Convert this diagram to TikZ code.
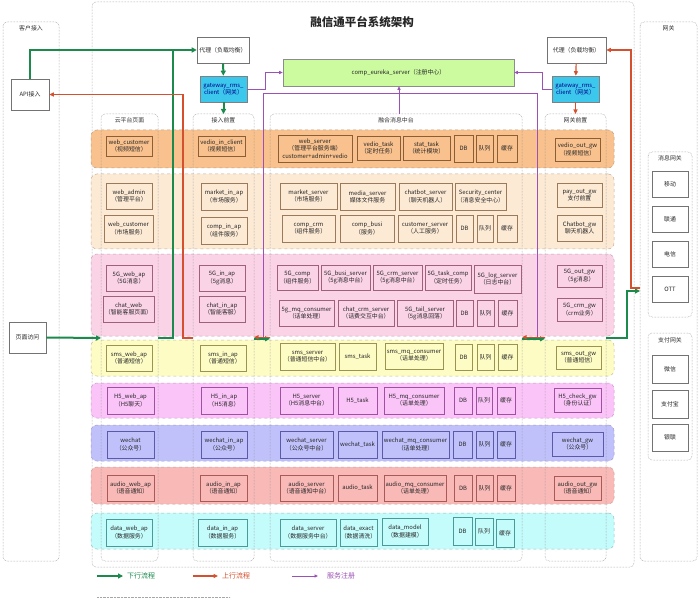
\documentclass[tikz,border=0pt]{standalone}
\usepackage{fontspec}
\setmainfont{Noto Sans CJK SC}
\usetikzlibrary{arrows.meta}
\definecolor{gline}{HTML}{1B8A4C}
\definecolor{rline}{HTML}{D4502F}
\definecolor{pline}{HTML}{9C52B4}
\definecolor{r1f}{HTML}{F8C18D}\definecolor{r1d}{HTML}{8B5E34}
\definecolor{r2f}{HTML}{FCEAD5}\definecolor{r2d}{HTML}{9A7A5A}
\definecolor{r3f}{HTML}{FBD3E7}\definecolor{r3d}{HTML}{A0607A}
\definecolor{r4f}{HTML}{FDFCC5}\definecolor{r4d}{HTML}{9A9450}
\definecolor{r5f}{HTML}{FBC4F8}\definecolor{r5d}{HTML}{A050A0}
\definecolor{r6f}{HTML}{C0C1FB}\definecolor{r6d}{HTML}{5A5AA8}
\definecolor{r7f}{HTML}{F8B9B7}\definecolor{r7d}{HTML}{A85A58}
\definecolor{r8f}{HTML}{C4FBFB}\definecolor{r8d}{HTML}{4A9A9A}
\definecolor{cyanbox}{HTML}{3CC8EC}
\definecolor{eurf}{HTML}{CCFA9F}
\newcommand\fsz{\fontsize{5.9}{7.2}\selectfont}
\newcommand\bx[6]{\node[bx,minimum width={#4-#2},minimum height={#5-#3}] (#1) at ({(#2+#4)/2},{(#3+#5)/2}) {#6};}
\newcommand\rowband[5]{\node[rowb,fill=#4,draw=#5,minimum width=523,minimum height={#3-#2}] (#1) at (352.5,{(#2+#3)/2}) {};}
\begin{document}
\begin{tikzpicture}[x=1pt,y=-1pt,
  bx/.style={draw=bxc,line width=0.55pt,inner sep=0pt,align=center,font=\fsz,text=black!85},
  rowb/.style={dashed,line width=0.5pt,rounded corners=6pt,inner sep=0pt},
  dotbox/.style={draw=black!45,densely dotted,line width=0.5pt,rounded corners=4pt},
  ttl/.style={font=\fsz,text=black!80,inner sep=1pt},
  plain/.style={draw=black!55,fill=white,line width=0.55pt,inner sep=0pt,align=center,font=\fsz,text=black!85},
  ga/.style={draw=gline,line width=2pt,-{Triangle[length=5pt,width=5pt]}},
  gl/.style={draw=gline,line width=2pt},
  ra/.style={draw=rline,line width=1.2pt,-{Triangle[length=4.5pt,width=4pt]}},
  pa/.style={draw=pline,line width=0.9pt,-{Triangle[length=3.5pt,width=3pt]}},
  pl/.style={draw=pline,line width=0.9pt}]
\useasboundingbox (0,0) rectangle (700,601);
\fill[white] (0,0) rectangle (700,601);

% outer containers
\draw[dotbox] (92,2) rectangle (634,567);
\draw[dotbox] (3,22) rectangle (59,561);
\draw[dotbox] (640,22) rectangle (697,561);
\node[font=\bfseries\fontsize{11.5}{13}\selectfont,text=black!85] (title) at (362,22) {融信通平台系统架构};
\node[ttl] (tcust) at (31,28) {客户接入};
\node[ttl] (tnet) at (668.5,28) {网关};

% left side
\node[plain,minimum width=38,minimum height=31] (api) at (30,94.5) {API接入};
\node[plain,minimum width=37,minimum height=31] (pvisit) at (27.5,337.5) {页面访问};

% right side
\draw[dotbox] (648,152) rectangle (692,317);
\node[ttl] (tmsg) at (670,158) {消息网关};
\node[plain,minimum width=36,minimum height=26] (yd) at (670,184) {移动};
\node[plain,minimum width=36,minimum height=26] (lt) at (670,219) {联通};
\node[plain,minimum width=36,minimum height=26] (dx) at (670,254) {电信};
\node[plain,minimum width=36,minimum height=26] (ott) at (670,289) {OTT};
\draw[dotbox] (648,333) rectangle (692,460);
\node[ttl] (tpay) at (670,340) {支付网关};
\node[plain,minimum width=36,minimum height=28] (wx) at (670,369) {微信};
\node[plain,minimum width=36,minimum height=28] (zfb) at (670,404) {支付宝};
\node[plain,minimum width=36,minimum height=27] (yl) at (670,437.5) {银联};

% top elements
\node[plain,minimum width=52,minimum height=26] (pxL) at (223,50) {代理（负载均衡）};
\node[plain,minimum width=59,minimum height=26] (pxR) at (576.5,50) {代理（负载均衡）};
\node[draw=black!50,fill=cyanbox,line width=0.55pt,inner sep=0pt,align=center,font=\fsz,text=blue!55!black,minimum width=47,minimum height=26] (gwL) at (223.5,89) {gateway\_rms\_\\client（网关）};
\node[draw=black!50,fill=cyanbox,line width=0.55pt,inner sep=0pt,align=center,font=\fsz,text=blue!55!black,minimum width=47,minimum height=26] (gwR) at (575.5,89) {gateway\_rms\_\\client（网关）};
\node[draw=black!45,fill=eurf,line width=0.55pt,inner sep=0pt,font=\fsz,text=black!85,minimum width=231,minimum height=27] (eur) at (398.5,72.5) {comp\_eureka\_server（注册中心）};

% rows
\rowband{row1}{130}{168}{r1f}{r1d!60}
\rowband{row2}{174}{249}{r2f}{r2d!60}
\rowband{row3}{254}{336}{r3f}{r3d!60}
\rowband{row4}{340}{376}{r4f}{r4d!60}
\rowband{row5}{383}{418}{r5f}{r5d!60}
\rowband{row6}{425}{461}{r6f}{r6d!60}
\rowband{row7}{467}{504}{r7f}{r7d!60}
\rowband{row8}{513}{549}{r8f}{r8d!60}

% columns
\draw[dotbox] (101,114) rectangle (158,561);
\draw[dotbox] (193,114) rectangle (254,561);
\draw[dotbox] (270,114) rectangle (522,561);
\draw[dotbox] (545,114) rectangle (606,561);
\node[ttl] (tcloud) at (129.5,120.5) {云平台页面};
\node[ttl] (tacc) at (223.5,120.5) {接入前置};
\node[ttl] (tmrg) at (396,120.5) {融合消息中台};
\node[ttl] (tgwf) at (575.5,120.5) {网关前置};

% row 1
\begin{scope}\colorlet{bxc}{r1d}
\bx{wc1}{106}{136}{152}{156}{web\_customer\\（视频短信）}
\bx{vic}{198}{136}{245}{156}{vedio\_in\_client\\（视频短信）}
\bx{wsv}{278}{135}{352}{162}{web\_server\\（管理平台服务端）\\customer+admin+vedio}
\bx{vtk}{357}{136}{400}{160}{vedio\_task\\（定时任务）}
\bx{stk}{403}{136}{450}{160}{stat\_task\\（统计模块）}
\bx{db1}{454}{135}{473}{162}{DB}
\bx{q1}{476}{135}{493}{162}{队列}
\bx{c1}{497}{135}{517}{162}{缓存}
\bx{vog}{555}{138}{600}{161}{vedio\_out\_gw\\（视频短信）}
\end{scope}

% row 2
\begin{scope}\colorlet{bxc}{r2d}
\bx{wad}{106}{183}{152}{209}{web\_admin\\（管理平台）}
\bx{wc2}{104}{215}{153}{242}{web\_customer\\（市场服务）}
\bx{mia}{201}{183}{247}{210}{market\_in\_ap\\（市场服务）}
\bx{cia}{201}{217}{247}{244}{comp\_in\_ap\\（组件服务）}
\bx{msv}{280}{183}{337}{209}{market\_server\\（市场服务）}
\bx{mds}{340}{183}{395}{210}{media\_server\\媒体文件服务}
\bx{cbs}{399}{183}{452}{210}{chatbot\_server\\（聊天机器人）}
\bx{sec}{455}{183}{506}{210}{Security\_center\\（消息安全中心）}
\bx{ccrm}{282}{215}{335}{242}{comp\_crm\\（组件服务）}
\bx{cbus}{340}{215}{394}{242}{comp\_busi\\（服务）}
\bx{csv}{398}{215}{452}{242}{customer\_server\\（人工服务）}
\bx{db2}{456}{215}{473}{242}{DB}
\bx{q2}{477}{215}{493}{242}{队列}
\bx{c2}{497}{215}{517}{242}{缓存}
\bx{pog}{557}{183}{602}{207}{pay\_out\_gw\\支付前置}
\bx{cbg}{557}{215}{602}{241}{Chatbot\_gw\\聊天机器人}
\end{scope}

% row 3
\begin{scope}\colorlet{bxc}{r3d}
\bx{g5w}{106}{265}{152}{291}{5G\_web\_ap\\（5G消息）}
\bx{chw}{103}{296}{154}{322}{chat\_web\\（智能客服页面）}
\bx{g5i}{199}{265}{245}{291}{5G\_in\_ap\\（5g消息）}
\bx{chi}{199}{296}{245}{322}{chat\_in\_ap\\（智能客服）}
\bx{g5c}{277}{265}{318}{290}{5G\_comp\\（组件服务）}
\bx{g5b}{321}{265}{370}{290}{5G\_busi\_server\\（5g消息中台）}
\bx{g5r}{373}{265}{422}{290}{5G\_crm\_server\\（5g消息中台）}
\bx{g5t}{425}{265}{471}{290}{5G\_task\_comp\\（定时任务）}
\bx{g5l}{474}{265}{521}{293}{5G\_log\_server\\（日志中台）}
\bx{g5m}{279}{300}{334}{326}{5g\_mq\_consumer\\（话单处理）}
\bx{ccs}{338}{300}{394}{326}{chat\_crm\_server\\（话费交互中台）}
\bx{g5f}{397}{300}{453}{326}{5G\_tail\_server\\（5g消息回落）}
\bx{db3}{456}{300}{473}{326}{DB}
\bx{q3}{477}{300}{494}{326}{队列}
\bx{c3}{498}{300}{517}{326}{缓存}
\bx{g5o}{557}{265}{602}{287}{5G\_out\_gw\\（5g消息）}
\bx{g5g}{557}{298}{602}{321}{5G\_crm\_gw\\（crm业务）}
\end{scope}

% row 4
\begin{scope}\colorlet{bxc}{r4d}
\bx{smw}{106}{345}{152}{371}{sms\_web\_ap\\（普通短信）}
\bx{smi}{200}{345}{246}{371}{sms\_in\_ap\\（普通短信）}
\bx{sms}{280}{343}{335}{370}{sms\_server\\（普通短信中台）}
\bx{smt}{339}{343}{376}{370}{sms\_task}
\bx{smq}{385}{343}{443}{369}{sms\_mq\_consumer\\（话单处理）}
\bx{db4}{455}{344}{472}{370}{DB}
\bx{q4}{477}{344}{494}{370}{队列}
\bx{c4}{498}{344}{517}{370}{缓存}
\bx{smo}{556}{346}{601}{369}{sms\_out\_gw\\（普通短信）}
\end{scope}

% row 5
\begin{scope}\colorlet{bxc}{r5d}
\bx{h5w}{107}{387}{154}{414}{H5\_web\_ap\\（H5聊天）}
\bx{h5i}{201}{387}{247}{414}{H5\_in\_ap\\（H5消息）}
\bx{h5s}{280}{387}{333}{414}{H5\_server\\（H5消息中台）}
\bx{h5t}{338}{387}{377}{414}{H5\_task}
\bx{h5q}{384}{387}{444}{414}{H5\_mq\_consumer\\（话单处理）}
\bx{db5}{454}{387}{472}{414}{DB}
\bx{q5}{476}{387}{492}{414}{队列}
\bx{c5}{497}{387}{515}{414}{缓存}
\bx{h5g}{554}{388}{601}{412}{H5\_check\_gw\\（身份认证）}
\end{scope}

% row 6
\begin{scope}\colorlet{bxc}{r6d}
\bx{wxw}{107}{431}{154}{458}{wechat\\（公众号）}
\bx{wxi}{201}{431}{247}{458}{wechat\_in\_ap\\（公众号）}
\bx{wxs}{280}{431}{333}{458}{wechat\_server\\（公众号中台）}
\bx{wxt}{338}{431}{377}{458}{wechat\_task}
\bx{wxq}{382}{431}{449}{458}{wechat\_mq\_consumer\\（话单处理）}
\bx{db6}{453}{431}{472}{458}{DB}
\bx{q6}{476}{431}{493}{458}{队列}
\bx{c6}{497}{431}{515}{458}{缓存}
\bx{wxg}{552}{432}{603}{456}{wechat\_gw\\（公众号）}
\end{scope}

% row 7
\begin{scope}\colorlet{bxc}{r7d}
\bx{auw}{107}{475}{154}{501}{audio\_web\_ap\\（语音通知）}
\bx{aui}{200}{475}{247}{501}{audio\_in\_ap\\（语音通知）}
\bx{aus}{280}{475}{333}{501}{audio\_server\\（语音通知中台）}
\bx{aut}{338}{475}{377}{501}{audio\_task}
\bx{auq}{384}{475}{446}{501}{audio\_mq\_consumer\\（话单处理）}
\bx{db7}{454}{475}{472}{501}{DB}
\bx{q7}{476}{475}{493}{501}{队列}
\bx{c7}{497}{475}{515}{501}{缓存}
\bx{auo}{554}{476}{601}{500}{audio\_out\_gw\\（语音通知）}
\end{scope}

% row 8
\begin{scope}\colorlet{bxc}{r8d}
\bx{dtw}{106}{519}{152}{546}{data\_web\_ap\\（数据服务）}
\bx{dti}{198}{519}{247}{546}{data\_in\_ap\\（数据服务）}
\bx{dts}{280}{519}{336}{546}{data\_server\\（数据服务中台）}
\bx{dte}{340}{519}{377}{546}{data\_exact\\（数据清洗）}
\bx{dtm}{382}{518}{428}{545}{data\_model\\（数据建模）}
\bx{db8}{453}{517}{472}{545}{DB}
\bx{q8}{475}{518}{493}{545}{队列}
\bx{c8}{496}{519}{514}{547}{缓存}
\end{scope}

% connector coordinates
\coordinate (cloudIn) at (101,338);
\coordinate (cloudOut) at (158,338);
\coordinate (gj) at (173,50);
\coordinate (accIn) at (193,338);
\coordinate (rk2) at (183,338);
\coordinate (accOut) at (254,338);
\coordinate (mrgL) at (270,338);
\coordinate (mrgR) at (522,338);
\coordinate (gwfL) at (545,338);
\coordinate (gwfR) at (606,338);
\coordinate (accTop) at (223.5,114);
\coordinate (gwfTop) at (575.5,114);
\coordinate (mrgTop) at (399,114);
\coordinate (netIn) at (640,291);
\coordinate (rk) at (631,288);
\coordinate (pL) at (263,337);
\coordinate (pR) at (537,337);
\coordinate (pTop) at (537,93);

% purple: service registration
\draw[pl] (pL) |- (pTop) -- (pR);
\draw[pa] (gwL.east) -- ++(18,0) |- (eur.west);
\draw[pa] (gwR.west) -- ++(-9,0) |- (eur.east);
\draw[pa] (mrgTop) -- (mrgTop |- eur.south);

% green: downstream
\draw[ga] (api.north) |- (pxL.west);
\draw[gl] (cloudOut) -| (gj);
\draw[ga] (pvisit.east) -- (cloudIn);
\draw[ga] (pxL) -- (gwL);
\draw[ga] (gwL) -- (accTop);
\draw[ga] ([yshift=-0.8pt]accOut) -- ([yshift=-0.8pt]mrgL);
\draw[ga] ([yshift=-0.8pt]mrgR) -- ([yshift=-0.8pt]gwfL);
\draw[ga] (gwfR) -| ([xshift=-13pt]netIn) -- (netIn);

% red: upstream
\draw[ra] ([yshift=3pt]netIn) -- (rk) |- (pxR.east);
\draw[ra] (pxR) -- (gwR);
\draw[ra] (gwR) -- (gwfTop);
\draw[ra] ([yshift=0.8pt]gwfL) -- ([yshift=0.8pt]mrgR);
\draw[ra] ([yshift=0.8pt]mrgL) -- ([yshift=0.8pt]accOut);
\draw[ra] (accIn) -- (rk2) |- (api.east);

% legend
\coordinate (lg1a) at (97,576); \coordinate (lg1b) at (123,576);
\coordinate (lg2a) at (193,576); \coordinate (lg2b) at (218,576);
\coordinate (lg3a) at (292,576); \coordinate (lg3b) at (318,576);
\draw[ga] (lg1a) -- (lg1b);
\draw[ra] (lg2a) -- (lg2b);
\draw[pa] (lg3a) -- (lg3b);
\node[anchor=west,font=\fontsize{7}{8}\selectfont,text=gline,inner sep=0pt] (lt1) at (127,576) {下行流程};
\node[anchor=west,font=\fontsize{7}{8}\selectfont,text=rline,inner sep=0pt] (lt2) at (222,576) {上行流程};
\node[anchor=west,font=\fontsize{7}{8}\selectfont,text=pline,inner sep=0pt] (lt3) at (327,576) {服务注册};
\draw[black!35,densely dotted,line width=0.4pt] (97,597) -- (230,597);
\end{tikzpicture}
\end{document}
